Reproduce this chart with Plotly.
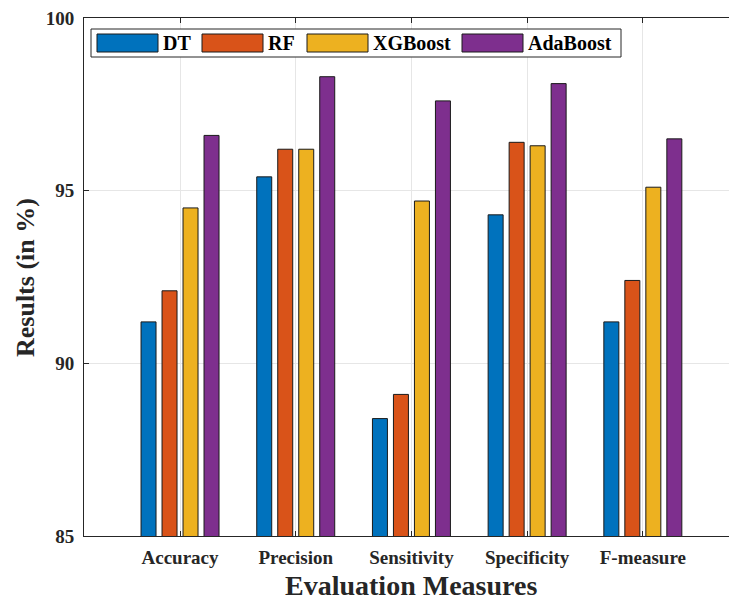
import plotly.graph_objects as go

categories = ["Accuracy", "Precision", "Sensitivity", "Specificity", "F-measure"]
series_names = ["DT", "RF", "XGBoost", "AdaBoost"]
dt_values = [91.2, 95.4, 88.4, 94.3, 91.2]
rf_values = [92.1, 96.2, 89.1, 96.4, 92.4]
xgb_values = [94.5, 96.2, 94.7, 96.3, 95.1]
ada_values = [96.6, 98.3, 97.6, 98.1, 96.5]
y_ticks = [85, 90, 95, 100]

colors = ["#0072BD", "#D95319", "#EDB120", "#7E2F8E"]
all_values = [dt_values, rf_values, xgb_values, ada_values]

FONT = "Liberation Serif"
AX = "#262626"
# figure is a bit wider than the 729 px window: the axes box runs off the right edge, as in the reference
W, H = 745, 601
pl, pr, pt, pb = 84, 745, 18, 536

fig = go.Figure()
for name, vals, col in zip(series_names, all_values, colors):
    fig.add_trace(go.Bar(
        x=list(range(len(categories))), y=vals, name=name,
        marker=dict(color=col, line=dict(color="#1a1a1a", width=1)),
        showlegend=False,
    ))

fig.update_layout(
    template="none",
    width=W, height=H,
    margin=dict(l=pl, r=W - pr, t=pt, b=H - pb, autoexpand=False),
    paper_bgcolor="white", plot_bgcolor="white",
    barmode="group", bargap=0.274, bargroupgap=0.286,
    font=dict(family=FONT, color=AX),
    xaxis=dict(
        range=[-0.83, 4.883], tickmode="array",
        tickvals=list(range(len(categories))), ticktext=categories,
        tickfont=dict(family=FONT, size=19, weight="bold", color=AX),
        showgrid=True, gridcolor="#e6e6e6", gridwidth=1,
        showline=True, linecolor=AX, linewidth=1, mirror="ticks",
        ticks="inside", ticklen=5, tickcolor=AX,
        ticklabelstandoff=4,
        zeroline=False, automargin=False,
    ),
    yaxis=dict(
        range=[85, 100], tickvals=y_ticks, ticktext=[str(v) for v in y_ticks],
        tickfont=dict(family=FONT, size=19, weight="bold", color=AX),
        showgrid=True, gridcolor="#e6e6e6", gridwidth=1,
        showline=True, linecolor=AX, linewidth=1, mirror=False,
        ticks="inside", ticklen=5, tickcolor=AX,
        ticklabelstandoff=5,
        zeroline=False, automargin=False,
    ),
)

def px(x):
    return (x - pl) / (pr - pl)
def py(y):
    return (pb - y) / (pb - pt)

fig.add_annotation(xref="paper", yref="paper", x=px(411), y=py(585),
                   text="Evaluation Measures", showarrow=False,
                   xanchor="center", yanchor="middle",
                   font=dict(family=FONT, size=28, weight="bold", color=AX))
fig.add_annotation(xref="paper", yref="paper", x=px(25), y=py(278),
                   text="Results (in %)", showarrow=False, textangle=-90,
                   xanchor="center", yanchor="middle",
                   font=dict(family=FONT, size=26, weight="bold", color=AX))

# Legend drawn manually (MATLAB style, wide swatches)
fig.add_shape(type="rect", xref="paper", yref="paper",
              x0=px(91), x1=px(621), y0=py(57), y1=py(29),
              line=dict(color=AX, width=1), fillcolor="white", layer="above")
sw_x = [97, 202, 307, 462]
txt_x = [161, 266, 371, 526]
for name, col, sx, tx in zip(series_names, colors, sw_x, txt_x):
    fig.add_shape(type="rect", xref="paper", yref="paper",
                  x0=px(sx), x1=px(sx + 61), y0=py(52), y1=py(34),
                  line=dict(color="#1a1a1a", width=1), fillcolor=col, layer="above")
    fig.add_annotation(xref="paper", yref="paper", x=px(tx), y=py(43.5),
                       text=name, showarrow=False, xanchor="left", yanchor="middle",
                       font=dict(family=FONT, size=20, weight="bold", color="#000000"))

fig.write_html("out.html",
               config={"displayModeBar": False},
               post_script=("document.body.style.margin='0';"
                            "document.body.style.overflow='hidden';"
                            "document.documentElement.style.overflow='hidden';"))
